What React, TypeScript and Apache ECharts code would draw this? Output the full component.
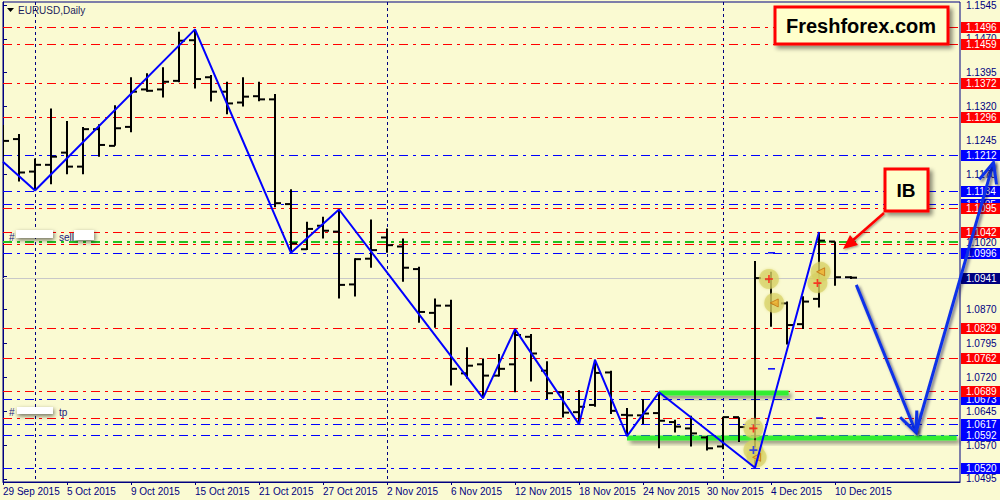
import React, { useEffect, useRef } from "react";
import * as echarts from "echarts";

const dates = [
  "29 Sep 2015", "30 Sep 2015", "1 Oct 2015", "2 Oct 2015", "5 Oct 2015", "6 Oct 2015", "7 Oct 2015", "8 Oct 2015",
  "9 Oct 2015", "12 Oct 2015", "13 Oct 2015", "14 Oct 2015", "15 Oct 2015", "16 Oct 2015", "19 Oct 2015", "20 Oct 2015",
  "21 Oct 2015", "22 Oct 2015", "23 Oct 2015", "26 Oct 2015", "27 Oct 2015", "28 Oct 2015", "29 Oct 2015", "30 Oct 2015",
  "2 Nov 2015", "3 Nov 2015", "4 Nov 2015", "5 Nov 2015", "6 Nov 2015", "9 Nov 2015", "10 Nov 2015", "11 Nov 2015",
  "12 Nov 2015", "13 Nov 2015", "16 Nov 2015", "17 Nov 2015", "18 Nov 2015", "19 Nov 2015", "20 Nov 2015", "23 Nov 2015",
  "24 Nov 2015", "25 Nov 2015", "26 Nov 2015", "27 Nov 2015", "30 Nov 2015", "1 Dec 2015", "2 Dec 2015", "3 Dec 2015",
  "4 Dec 2015", "7 Dec 2015", "8 Dec 2015", "9 Dec 2015", "10 Dec 2015", "11 Dec 2015",
];

const openP = [
  1.1270, 1.1248, 1.1176, 1.1191, 1.1218, 1.1187, 1.1270, 1.1233, 1.1275, 1.1358, 1.1358, 1.1377, 1.1467, 1.1385,
  1.1353, 1.1329, 1.1343, 1.1336, 1.1104, 1.1004, 1.1056, 1.1043, 1.0926, 1.0983, 1.1030, 1.1010, 1.0960, 1.0863,
  1.0879, 1.0729, 1.0749, 1.0724, 1.0749, 1.0810, 1.0735, 1.0687, 1.0643, 1.0659, 1.0731, 1.0637, 1.0636, 1.0641,
  1.0621, 1.0607, 1.0587, 1.0567, 1.0632, 1.0607, 1.0937, 1.0884, 1.0838, 1.0894, 1.1021, 1.0942,
];
const highP = [
  1.1279, 1.1259, 1.1205, 1.1316, 1.1288, 1.1275, 1.1281, 1.1323, 1.1385, 1.1394, 1.1407, 1.1486, 1.1491, 1.1390,
  1.1375, 1.1385, 1.1375, 1.1348, 1.1137, 1.1065, 1.1076, 1.1092, 1.0984, 1.1070, 1.1050, 1.1028, 1.0965, 1.0895,
  1.0892, 1.0787, 1.0762, 1.0772, 1.0827, 1.0816, 1.0756, 1.0690, 1.0692, 1.0759, 1.0735, 1.0652, 1.0672, 1.0687,
  1.0626, 1.0635, 1.0590, 1.0633, 1.0632, 1.0978, 1.0954, 1.0888, 1.0900, 1.1042, 1.1021, 1.0944,
];
const lowP = [
  1.1209, 1.1154, 1.1134, 1.1148, 1.1170, 1.1170, 1.1209, 1.1233, 1.1263, 1.1353, 1.1340, 1.1374, 1.1360, 1.1331,
  1.1303, 1.1320, 1.1332, 1.1097, 1.0996, 1.1002, 1.1028, 1.0895, 1.0899, 1.0963, 1.0996, 1.0932, 1.0841, 1.0830,
  1.0702, 1.0717, 1.0674, 1.0722, 1.0687, 1.0711, 1.0672, 1.0631, 1.0616, 1.0655, 1.0639, 1.0590, 1.0617, 1.0563,
  1.0598, 1.0567, 1.0558, 1.0561, 1.0577, 1.0520, 1.0832, 1.0793, 1.0827, 1.0875, 1.0923, 1.0938,
];
const closeP = [
  1.1244, 1.1174, 1.1191, 1.1209, 1.1187, 1.1270, 1.1235, 1.1272, 1.1353, 1.1355, 1.1375, 1.1466, 1.1381, 1.1353,
  1.1327, 1.1342, 1.1336, 1.1106, 1.1017, 1.1049, 1.1045, 1.0925, 1.0982, 1.1002, 1.1013, 1.0963, 1.0865, 1.0879,
  1.0739, 1.0746, 1.0724, 1.0739, 1.0814, 1.0773, 1.0685, 1.0642, 1.0655, 1.0730, 1.0646, 1.0636, 1.0640, 1.0624,
  1.0611, 1.0596, 1.0563, 1.0632, 1.0610, 1.0940, 1.0883, 1.0836, 1.0888, 1.1023, 1.0942, 1.0941,
];

const zigzag = [
  [0, 1.1198], [2, 1.1134], [12, 1.1491], [18, 1.0996], [21, 1.1092], [30, 1.0674], [32, 1.0827],
  [36, 1.0616], [37, 1.0759], [39, 1.0590], [41, 1.0687], [47, 1.052], [51, 1.1042],
];

const priceTicks = [1.0495, 1.057, 1.0645, 1.072, 1.0795, 1.087, 1.0945, 1.102, 1.1095, 1.117, 1.1245, 1.132, 1.1395, 1.147, 1.1545];
const hiddenTickLabels = [1.0945, 1.1095];
const redLevels = [1.1496, 1.1459, 1.1372, 1.1296, 1.1095, 1.1042, 1.0829, 1.0762, 1.0689];
const blueLevels = [1.1212, 1.1134, 1.1105, 1.0996, 1.0673, 1.0617, 1.0592, 1.052];
const bidPrice = 1.0941;
const sellLevel = 1.1019;
const sellOrderLevel = 1.1016;
const tpLevel = 1.063;
const monthStarts = ["1 Oct 2015", "2 Nov 2015", "1 Dec 2015"];
const zoneStarts = [39, 41];
const zoneEnds = [59.6, 49.1];
const zonePrices = [1.0585, 1.0686];
const forecastPath = [[53.33, 1.0925], [57.06, 1.0598], [61.9, 1.1196]];
const tradeCircles = [[46.9, 1.0607], [46.9, 1.0559], [47.1, 1.0543], [47.87, 1.0938], [48.2, 1.0885], [50.9, 1.0929], [51.1, 1.0954]];
const entryMarks = [[46.9, 1.0607], [47.87, 1.0938], [50.9, 1.0929]];
const buyMarks = [[46.9, 1.0559]];
const exitMarks = [[47.1, 1.0543], [48.2, 1.0885], [51.1, 1.0954]];
const orderTicks = [[48, 1.0996], [48, 1.0739], [51, 1.063]];

const BG = "#FAFAD2";
const NAVY = "#000080";
const FONT = "Liberation Sans, Arial, sans-serif";
const DASHDOT = [9, 5, 3, 5];
const PLUS = "path://M4,0H6V4H10V6H6V10H4V6H0V4H4Z";

// level kinds: 0 bid (gray, navy box), 1 blue, 2 red, 3 red no label, 4 green no label
const KIND_STYLE = [
  { stroke: "#C8C8C8", box: NAVY, width: 1, dash: null as any },
  { stroke: "#0000FF", box: "#0000FF", width: 1, dash: DASHDOT },
  { stroke: "#FF0000", box: "#FF0000", width: 1, dash: DASHDOT },
  { stroke: "#FF0000", box: null, width: 1, dash: DASHDOT },
  { stroke: "#22C022", box: null, width: 2, dash: DASHDOT },
];

export default function App() {
  const ref = useRef<HTMLDivElement>(null);

  useEffect(() => {
    if (!ref.current) return;
    const chart = echarts.init(ref.current, undefined, { renderer: "svg" });
    const ohlc = dates.map((_, i) => [i, openP[i], highP[i], lowP[i], closeP[i]]);
    const xLabelIdx = dates.map((_, i) => i).filter((i) => i % 4 === 0);
    const tickLabels = priceTicks.filter((v) => !hiddenTickLabels.includes(v));
    const levels = [
      [bidPrice, 0],
      [sellOrderLevel, 3],
      [tpLevel, 3],
      ...blueLevels.map((v) => [v, 1]),
      ...redLevels.map((v) => [v, 2]),
      [sellLevel, 4],
    ];
    const separators = monthStarts.map((d) => [dates.indexOf(d)]);
    const zones = zonePrices.map((p, k) => [zoneStarts[k], zoneEnds[k], p]);
    const shadow = { shadowBlur: 4, shadowColor: "rgba(0,0,0,0.45)", shadowOffsetX: 3, shadowOffsetY: 3 };

    const option: any = {
      animation: false,
      backgroundColor: BG,
      grid: { left: 3, right: 40, top: 2, bottom: 18, show: true, borderColor: NAVY, borderWidth: 1, backgroundColor: BG },
      xAxis: {
        type: "value",
        min: 0,
        max: 59.81,
        splitLine: { show: false },
        axisLine: { show: true, lineStyle: { color: NAVY, width: 1 } },
        axisTick: { show: true, length: 3, lineStyle: { color: NAVY }, customValues: xLabelIdx },
        axisLabel: {
          customValues: xLabelIdx,
          formatter: (v: number) => dates[Math.round(v)] ?? "",
          color: NAVY,
          fontSize: 10,
          fontFamily: FONT,
          align: "left",
          margin: 4,
        },
      },
      yAxis: {
        type: "value",
        position: "right",
        min: 1.04883,
        max: 1.15517,
        splitLine: { show: false },
        axisLine: { show: true, lineStyle: { color: NAVY, width: 1 } },
        axisTick: { show: true, length: 4, lineStyle: { color: NAVY }, customValues: priceTicks },
        axisLabel: {
          customValues: tickLabels,
          formatter: (v: number) => v.toFixed(4),
          color: NAVY,
          fontSize: 10,
          fontFamily: FONT,
          margin: 6,
        },
      },
      series: [
        {
          type: "custom",
          clip: false,
          silent: true,
          encode: { x: 0 },
          data: separators,
          renderItem: (params: any, api: any) => {
            const cs = params.coordSys;
            const x = Math.round(api.coord([api.value(0), 1.1])[0]) + 0.5;
            return {
              type: "line",
              shape: { x1: x, y1: cs.y, x2: x, y2: cs.y + cs.height },
              style: { stroke: NAVY, lineWidth: 1, lineDash: [3, 3] },
            };
          },
        },
        {
          type: "custom",
          clip: false,
          silent: true,
          encode: { y: 0 },
          data: levels,
          renderItem: (params: any, api: any) => {
            const cs = params.coordSys;
            const price = api.value(0);
            const k = KIND_STYLE[api.value(1)];
            const py = api.coord([0, price])[1];
            const y = k.width === 1 ? Math.round(py) + 0.5 : Math.round(py);
            const children: any[] = [
              {
                type: "line",
                shape: { x1: cs.x, y1: y, x2: cs.x + cs.width, y2: y },
                style: { stroke: k.stroke, lineWidth: k.width, lineDash: k.dash || undefined },
              },
            ];
            if (k.box) {
              const bx = cs.x + cs.width + 1;
              children.push({
                type: "rect",
                shape: { x: bx, y: Math.round(py) - 5, width: 45, height: 11 },
                style: { fill: k.box },
              });
              children.push({
                type: "text",
                x: bx + 5,
                y: Math.round(py) + 0.5,
                style: {
                  text: price.toFixed(4),
                  fill: "#FFFFFF",
                  font: `10px ${FONT}`,
                  verticalAlign: "middle",
                  align: "left",
                },
              });
            }
            return { type: "group", children };
          },
        },
        {
          type: "custom",
          clip: false,
          silent: true,
          encode: { x: [0, 1], y: 2 },
          data: zones,
          renderItem: (_p: any, api: any) => {
            const a = api.coord([api.value(0), api.value(2)]);
            const b = api.coord([api.value(1), api.value(2)]);
            return {
              type: "rect",
              shape: { x: a[0], y: Math.round(a[1]) - 2.5, width: b[0] - a[0], height: 5 },
              style: { fill: "#30EE30", ...shadow },
            };
          },
        },
        {
          type: "custom",
          clip: true,
          encode: { x: 0, y: [1, 2, 3, 4] },
          data: ohlc,
          renderItem: (_p: any, api: any) => {
            const i = api.value(0);
            const o = api.coord([i, api.value(1)]);
            const h = api.coord([i, api.value(2)]);
            const l = api.coord([i, api.value(3)]);
            const c = api.coord([i, api.value(4)]);
            const x = Math.round(o[0]);
            const st = { stroke: "#000000", lineWidth: 2 };
            return {
              type: "group",
              children: [
                { type: "line", shape: { x1: x, y1: h[1], x2: x, y2: l[1] }, style: st },
                { type: "line", shape: { x1: x - 6, y1: o[1], x2: x, y2: o[1] }, style: st },
                { type: "line", shape: { x1: x, y1: c[1], x2: x + 6, y2: c[1] }, style: st },
              ],
            };
          },
        },
        {
          type: "custom",
          encode: { x: 0, y: 1 },
          data: orderTicks,
          silent: true,
          renderItem: (_p: any, api: any) => {
            const pt = api.coord([api.value(0), api.value(1)]);
            return {
              type: "line",
              shape: { x1: pt[0] - 3, y1: pt[1], x2: pt[0] + 4, y2: pt[1] },
              style: { stroke: "#0000FF", lineWidth: 1.5 },
            };
          },
        },
        {
          type: "line",
          data: zigzag,
          showSymbol: false,
          symbol: "none",
          lineStyle: { color: "#0000FF", width: 2 },
          silent: true,
        },
        {
          type: "scatter",
          data: tradeCircles,
          symbol: "circle",
          symbolSize: 20,
          itemStyle: { color: "rgba(214,208,98,0.8)", shadowBlur: 3, shadowColor: "rgba(214,208,98,0.8)" },
          silent: true,
        },
        {
          type: "scatter",
          data: entryMarks,
          symbol: PLUS,
          symbolSize: 8,
          itemStyle: { color: "#FF1010" },
          silent: true,
        },
        {
          type: "scatter",
          data: buyMarks,
          symbol: PLUS,
          symbolSize: 8,
          itemStyle: { color: "#1020FF" },
          silent: true,
        },
        {
          type: "scatter",
          data: exitMarks,
          symbol: "triangle",
          symbolRotate: 90,
          symbolSize: 8,
          itemStyle: { color: "#F0B030", borderColor: "#C07010", borderWidth: 1 },
          silent: true,
        },
        {
          type: "custom",
          clip: false,
          silent: true,
          encode: { x: 0, y: 1 },
          data: [forecastPath[0]],
          z: 10,
          renderItem: (_p: any, api: any) => {
            const pts = forecastPath.map((p) => api.coord(p));
            const st = {
              stroke: "#1030E8",
              lineWidth: 3,
              fill: "none",
              shadowBlur: 3,
              shadowColor: "rgba(0,0,60,0.55)",
              shadowOffsetX: 2,
              shadowOffsetY: 2,
            };
            const children: any[] = [];
            for (let k = 0; k < pts.length - 1; k++) {
              const a = pts[k];
              const b = pts[k + 1];
              const ang = Math.atan2(b[1] - a[1], b[0] - a[0]);
              const len = 22;
              const spread = 0.42;
              children.push({ type: "line", shape: { x1: a[0], y1: a[1], x2: b[0], y2: b[1] }, style: st });
              children.push({
                type: "polyline",
                shape: {
                  points: [
                    [b[0] - len * Math.cos(ang - spread), b[1] - len * Math.sin(ang - spread)],
                    [b[0], b[1]],
                    [b[0] - len * Math.cos(ang + spread), b[1] - len * Math.sin(ang + spread)],
                  ],
                },
                style: st,
              });
            }
            return { type: "group", children };
          },
        },
      ],
      graphic: [
        { type: "polygon", z: 100, shape: { points: [[7, 8], [14, 8], [10.5, 12]] }, style: { fill: "#000000" } },
        { type: "text", z: 100, x: 18, y: 5, style: { text: "EURUSD,Daily", fill: "#1C1C5C", font: `10px ${FONT}` } },
        {
          type: "rect",
          z: 100,
          shape: { x: 775, y: 7, width: 173, height: 37 },
          style: { fill: "#FFFFCC", stroke: "#FF0000", lineWidth: 3, ...shadow },
        },
        {
          type: "text",
          z: 101,
          x: 861,
          y: 26,
          style: { text: "Freshforex.com", fill: "#000000", font: `bold 20px ${FONT}`, align: "center", verticalAlign: "middle" },
        },
        {
          type: "rect",
          z: 100,
          shape: { x: 885, y: 169, width: 43, height: 42 },
          style: { fill: "#FFFFCC", stroke: "#FF0000", lineWidth: 3, ...shadow },
        },
        {
          type: "text",
          z: 101,
          x: 906,
          y: 190,
          style: { text: "IB", fill: "#000000", font: `bold 19px ${FONT}`, align: "center", verticalAlign: "middle" },
        },
        {
          type: "line",
          z: 100,
          shape: { x1: 884, y1: 213, x2: 852, y2: 241 },
          style: { stroke: "#FF0000", lineWidth: 2.5, shadowBlur: 2, shadowColor: "rgba(0,0,0,0.4)", shadowOffsetX: 1, shadowOffsetY: 1 },
        },
        {
          type: "polygon",
          z: 100,
          shape: { points: [[843, 249], [858, 245], [850, 235]] },
          style: { fill: "#FF0000", shadowBlur: 2, shadowColor: "rgba(0,0,0,0.4)", shadowOffsetX: 1, shadowOffsetY: 1 },
        },
        { type: "text", z: 100, x: 9, y: 232, style: { text: "#", fill: "#202080", font: `10px ${FONT}` } },
        {
          type: "rect",
          z: 100,
          shape: { x: 16, y: 230, width: 37, height: 8 },
          style: { fill: "#FFFFFF", shadowBlur: 4, shadowColor: "rgba(0,0,0,0.55)", shadowOffsetX: 1, shadowOffsetY: 2 },
        },
        { type: "text", z: 100, x: 59, y: 232, style: { text: "sell", fill: "#202080", font: `10px ${FONT}` } },
        {
          type: "rect",
          z: 100,
          shape: { x: 74, y: 230, width: 20, height: 10 },
          style: { fill: "#FFFFFF", shadowBlur: 4, shadowColor: "rgba(0,0,0,0.55)", shadowOffsetX: 1, shadowOffsetY: 2 },
        },
        { type: "text", z: 100, x: 9, y: 407, style: { text: "#", fill: "#202080", font: `10px ${FONT}` } },
        {
          type: "rect",
          z: 100,
          shape: { x: 17, y: 407, width: 36, height: 7 },
          style: { fill: "#FFFFFF", shadowBlur: 4, shadowColor: "rgba(0,0,0,0.55)", shadowOffsetX: 1, shadowOffsetY: 2 },
        },
        { type: "text", z: 100, x: 59, y: 407, style: { text: "tp", fill: "#202080", font: `10px ${FONT}` } },
      ],
    };

    chart.setOption(option);
    return () => chart.dispose();
  }, []);

  return <div ref={ref} style={{ position: "fixed", left: 0, top: 0, width: 1000, height: 500 }} />;
}
